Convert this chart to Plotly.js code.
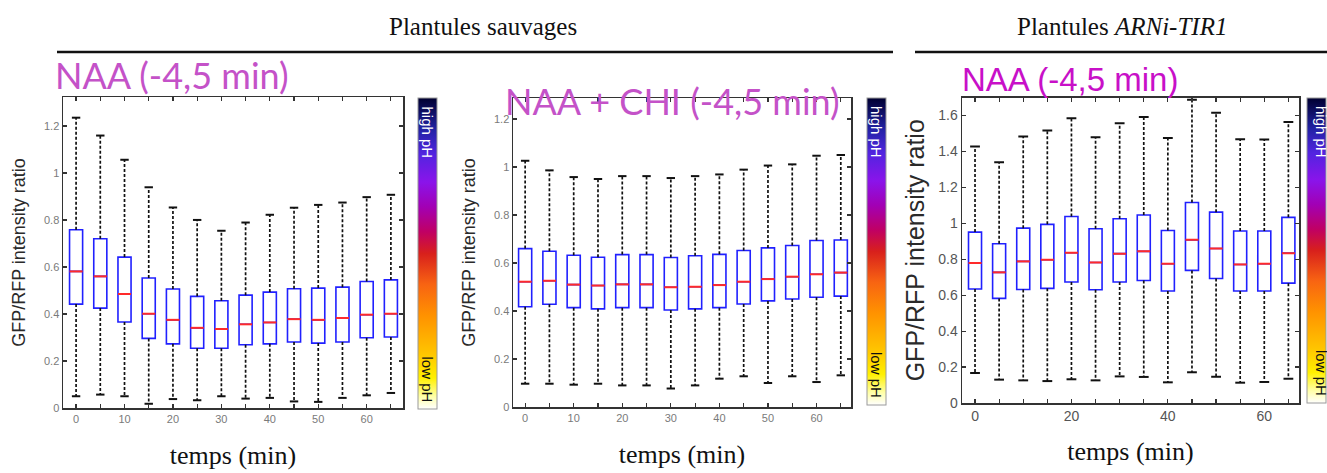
<!DOCTYPE html>
<html>
<head>
<meta charset="utf-8">
<script src="https://cdn.plot.ly/plotly-3.0.1.min.js"></script>
<style>html,body{margin:0;padding:0;background:#fff;}#chart{width:1327px;height:473px;}</style>
</head>
<body>
<div id="chart"></div>
<script>
// ---- data ----
const temps = [0, 5, 10, 15, 20, 25, 30, 35, 40, 45, 50, 55, 60, 65];

// Panel 1 : Plantules sauvages, NAA (-4,5 min)
const wtNaaHigh = [1.235, 1.159, 1.056, 0.939, 0.853, 0.800, 0.754, 0.789, 0.822, 0.852, 0.864, 0.874, 0.897, 0.907];
const wtNaaQ3   = [0.758, 0.720, 0.642, 0.553, 0.506, 0.475, 0.456, 0.480, 0.493, 0.507, 0.510, 0.514, 0.538, 0.545];
const wtNaaMed  = [0.581, 0.560, 0.485, 0.401, 0.375, 0.341, 0.336, 0.356, 0.364, 0.378, 0.375, 0.383, 0.397, 0.401];
const wtNaaQ1   = [0.442, 0.425, 0.366, 0.296, 0.273, 0.254, 0.254, 0.269, 0.273, 0.281, 0.276, 0.281, 0.299, 0.302];
const wtNaaLow  = [0.050, 0.057, 0.050, 0.018, 0.038, 0.033, 0.050, 0.040, 0.043, 0.028, 0.026, 0.043, 0.054, 0.064];

// Panel 2 : Plantules sauvages, NAA + CHI (-4,5 min)
const wtChiHigh = [1.026, 0.986, 0.958, 0.950, 0.962, 0.962, 0.954, 0.962, 0.969, 0.989, 1.006, 1.011, 1.047, 1.050];
const wtChiQ3   = [0.660, 0.649, 0.632, 0.624, 0.635, 0.635, 0.623, 0.630, 0.636, 0.652, 0.663, 0.673, 0.694, 0.696];
const wtChiMed  = [0.522, 0.526, 0.510, 0.506, 0.511, 0.511, 0.499, 0.501, 0.508, 0.522, 0.533, 0.543, 0.553, 0.560];
const wtChiQ1   = [0.418, 0.428, 0.414, 0.409, 0.414, 0.414, 0.404, 0.409, 0.414, 0.429, 0.442, 0.450, 0.457, 0.462];
const wtChiLow  = [0.097, 0.097, 0.093, 0.097, 0.090, 0.090, 0.077, 0.090, 0.118, 0.128, 0.100, 0.128, 0.104, 0.132];

// Panel 3 : Plantules ARNi-TIR1, NAA (-4,5 min)
const tirHigh = [1.428, 1.340, 1.483, 1.517, 1.585, 1.479, 1.557, 1.591, 1.474, 1.687, 1.615, 1.468, 1.466, 1.563];
const tirQ3   = [0.951, 0.886, 0.973, 0.994, 1.038, 0.970, 1.025, 1.046, 0.960, 1.116, 1.062, 0.957, 0.957, 1.033];
const tirMed  = [0.779, 0.727, 0.788, 0.797, 0.836, 0.782, 0.831, 0.844, 0.775, 0.908, 0.860, 0.771, 0.775, 0.834];
const tirQ1   = [0.634, 0.582, 0.632, 0.638, 0.673, 0.630, 0.673, 0.682, 0.623, 0.738, 0.693, 0.623, 0.623, 0.667];
const tirLow  = [0.167, 0.130, 0.126, 0.122, 0.132, 0.126, 0.148, 0.145, 0.115, 0.171, 0.146, 0.113, 0.117, 0.135];

// tick labels
const xTickVals = [0, 5, 10, 15, 20, 25, 30, 35, 40, 45, 50, 55, 60, 65];
const xTickText10 = ['0', '', '10', '', '20', '', '30', '', '40', '', '50', '', '60', ''];
const xTickText20 = ['0', '', '', '', '20', '', '', '', '40', '', '', '', '60', ''];
const yTickVals12 = [0, 0.2, 0.4, 0.6, 0.8, 1, 1.2];
const yTickText12 = ['0', '0.2', '0.4', '0.6', '0.8', '1', '1.2'];
const yTickVals16 = [0, 0.2, 0.4, 0.6, 0.8, 1, 1.2, 1.4, 1.6];
const yTickText16 = ['0', '0.2', '0.4', '0.6', '0.8', '1', '1.2', '1.4', '1.6'];

// ---- styles ----
const W = 1327, H = 473;
const BOX_W = 2.7;       // box width in minutes
const BLUE = '#2020ff', RED = '#ff2a2a';
const phScale = [
  [0, '#ffffff'], [0.04, '#ffffa8'], [0.1, '#fff000'], [0.18, '#ffc400'],
  [0.3, '#ff9200'], [0.4, '#f86412'], [0.5, '#d8201c'], [0.57, '#c00064'],
  [0.65, '#a200b4'], [0.73, '#8a14ea'], [0.82, '#5224e0'], [0.9, '#2222a4'],
  [1, '#000030']
];

function px2x(p) { return p / W; }
function px2y(p) { return 1 - p / H; }

const traces = [];
function addPanel(xa, ya, high, q3, med, q1, low, capSize) {
  // dashed whiskers
  const wx = [], wy = [];
  temps.forEach((t, i) => {
    wx.push(t, t, null, t, t, null);
    wy.push(q3[i], high[i], null, q1[i], low[i], null);
  });
  traces.push({type: 'scatter', mode: 'lines', x: wx, y: wy, xaxis: xa, yaxis: ya,
    line: {color: '#111', width: 1.7, dash: '3px,2px'}, hoverinfo: 'skip'});
  // whisker caps
  traces.push({type: 'scatter', mode: 'markers', x: temps.concat(temps), y: high.concat(low),
    xaxis: xa, yaxis: ya, hoverinfo: 'skip',
    marker: {symbol: 'line-ew-open', size: capSize, color: '#111', line: {color: '#111', width: 2}}});
  // boxes
  traces.push({type: 'box', x: temps, q1: q1, median: med, q3: q3,
    lowerfence: q1, upperfence: q3, xaxis: xa, yaxis: ya, width: BOX_W,
    whiskerwidth: 0, fillcolor: 'rgba(0,0,0,0)', line: {color: BLUE, width: 1.6},
    boxpoints: false, hoverinfo: 'skip'});
  // red medians
  const mx = [], my = [];
  temps.forEach((t, i) => {
    mx.push(t - BOX_W / 2, t + BOX_W / 2, null);
    my.push(med[i], med[i], null);
  });
  traces.push({type: 'scatter', mode: 'lines', x: mx, y: my, xaxis: xa, yaxis: ya,
    line: {color: RED, width: 2}, hoverinfo: 'skip'});
}
addPanel('x', 'y', wtNaaHigh, wtNaaQ3, wtNaaMed, wtNaaQ1, wtNaaLow, 6);
addPanel('x2', 'y2', wtChiHigh, wtChiQ3, wtChiMed, wtChiQ1, wtChiLow, 6);
addPanel('x3', 'y3', tirHigh, tirQ3, tirMed, tirQ1, tirLow, 7);

// pH colour bars
function addColorbar(xa, ya, left, top, bottom) {
  traces.push({type: 'scatter', mode: 'markers', x: [null], y: [null], xaxis: xa, yaxis: ya,
    hoverinfo: 'skip', showlegend: false,
    marker: {color: [0.5], cmin: 0, cmax: 1, colorscale: phScale, showscale: true, size: 0,
      colorbar: {x: px2x(left), xanchor: 'left', y: px2y(bottom), yanchor: 'bottom',
        len: (bottom - top) / H, lenmode: 'fraction', thickness: 19, thicknessmode: 'pixels',
        xpad: 0, ypad: 0, outlinewidth: 1, outlinecolor: '#9a9a9a',
        showticklabels: false, ticks: ''}}});
}
addColorbar('x', 'y', 418, 98, 409);
addColorbar('x2', 'y2', 867, 98, 405);
addColorbar('x3', 'y3', 1307, 98, 403);

function xAxis(anchor, domL, domR, range, ticktext, fontSize, color, standoff) {
  return {anchor: anchor, domain: [px2x(domL), px2x(domR)], range: range, tickmode: 'array',
    tickvals: xTickVals, ticktext: ticktext, ticks: 'inside', ticklen: 4, tickwidth: 1.2,
    tickcolor: '#333', mirror: 'ticks', showline: true, linecolor: '#333', linewidth: 1.5,
    showgrid: false, zeroline: false,
    tickfont: {family: 'Liberation Sans, Arial, sans-serif', size: fontSize, color: color},
    title: {text: 'temps (min)', standoff: standoff,
      font: {family: 'Liberation Serif, Times New Roman, serif', size: 26, color: '#111'}}};
}
function yAxis(anchor, domB, domT, range, tv, tt, fontSize, color, titleSize, standoff) {
  return {anchor: anchor, domain: [px2y(domB), px2y(domT)], range: range, tickmode: 'array',
    tickvals: tv, ticktext: tt, ticks: 'inside', ticklen: 4, tickwidth: 1.2,
    tickcolor: '#333', mirror: 'ticks', showline: true, linecolor: '#333', linewidth: 1.5,
    showgrid: false, zeroline: false,
    tickfont: {family: 'Liberation Sans, Arial, sans-serif', size: fontSize, color: color},
    title: {text: 'GFP/RFP intensity ratio', standoff: standoff,
      font: {family: 'Liberation Sans, Arial, sans-serif', size: titleSize, color: '#2a2a2a'}}};
}

const MAG1 = '#c452c8', MAG3 = '#c810c8';
function ann(text, x, y, xanchor, font, extra) {
  return Object.assign({text: text, x: px2x(x), y: px2y(y), xref: 'paper', yref: 'paper',
    xanchor: xanchor, yanchor: 'middle', showarrow: false, font: font}, extra || {});
}
const serif = 'Liberation Serif, Times New Roman, serif';
const annotations = [
  ann('Plantules sauvages', 483, 27, 'center', {family: serif, size: 25, color: '#111'}),
  ann('Plantules <i>ARNi-TIR1</i>', 1122, 27, 'center', {family: serif, size: 25, color: '#111'}),
  ann('NAA (-4,5 min)', 53, 75, 'left', {family: 'Lato, sans-serif', size: 36, color: MAG1}),
  ann('NAA + CHI (-4,5 min)', 503, 101, 'left', {family: 'Lato, sans-serif', size: 36, color: MAG1}),
  ann('NAA (-4,5 min)', 960, 79, 'left', {family: 'Liberation Sans, Arial, sans-serif', size: 33, color: MAG3})
];
function phLabels(cx, top, bottom) {
  annotations.push(ann('high pH', cx, top + 34, 'center',
    {family: 'Liberation Sans, Arial, sans-serif', size: 15, color: '#ffffff'}, {textangle: 90}));
  annotations.push(ann('low pH', cx, bottom - 30, 'center',
    {family: 'Liberation Sans, Arial, sans-serif', size: 15, color: '#111'}, {textangle: 90}));
}
phLabels(427.5, 98, 409);
phLabels(877, 98, 405);
phLabels(1322, 98, 403);

const layout = {
  width: W, height: H, margin: {l: 0, r: 0, t: 0, b: 0},
  paper_bgcolor: '#ffffff', plot_bgcolor: '#ffffff', showlegend: false, boxmode: 'overlay',
  xaxis: xAxis('y', 63, 403, [-2.7, 67.5], xTickText10, 11, '#7a7a7a', 22),
  yaxis: yAxis('x', 408, 97, [0, 1.323], yTickVals12, yTickText12, 11, '#7a7a7a', 18, 13),
  xaxis2: xAxis('y2', 513, 851, [-2.5, 67.1], xTickText10, 11, '#7a7a7a', 22),
  yaxis2: yAxis('x2', 407, 98, [0, 1.2875], yTickVals12, yTickText12, 11, '#7a7a7a', 18, 13),
  xaxis3: xAxis('y3', 962, 1299, [-2.7, 67.2], xTickText20, 14, '#555555', 18),
  yaxis3: yAxis('x3', 403, 97.5, [0, 1.7], yTickVals16, yTickText16, 14, '#555555', 25, 6),
  shapes: [
    {type: 'line', xref: 'paper', yref: 'paper', x0: px2x(57), x1: px2x(893), y0: px2y(52), y1: px2y(52),
     line: {color: '#111', width: 2.6}},
    {type: 'line', xref: 'paper', yref: 'paper', x0: px2x(915), x1: px2x(1327), y0: px2y(52), y1: px2y(52),
     line: {color: '#111', width: 2.6}}
  ],
  annotations: annotations
};

Plotly.newPlot('chart', traces, layout, {displayModeBar: false, staticPlot: true});
</script>
</body>
</html>
